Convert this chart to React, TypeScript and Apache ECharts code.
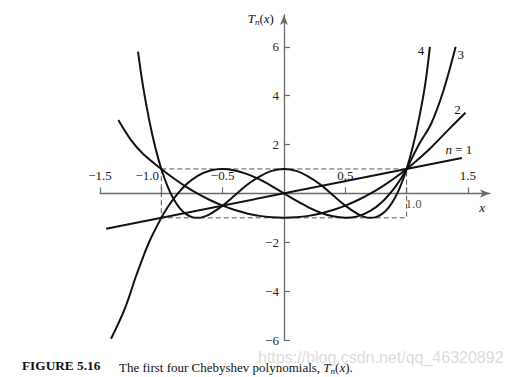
import React, { useEffect, useRef } from "react";
import * as echarts from "echarts";

// ---- data ----
const xTicks = [-1.5, -1, -0.5, 0.5, 1, 1.5];
const xLabelsAbove = [-1.5, -1, -0.5, 0.5, 1.5];
const xLabelsBelow = [[1, 0]];
const yTicks = [-6, -4, -2, 2, 4, 6];
const boxCorners = [
  [-1, 1],
  [1, -1],
];

const t1Points = [
  [-1.45, -1.45],
  [1.45, 1.45],
];

const t2Points = [
  [-1.35, 3.0], [-1.25, 2.2], [-1.15, 1.62], [-1.0, 1.0], [-0.9, 0.62], [-0.8, 0.28],
  [-0.7, -0.02], [-0.6, -0.28], [-0.5, -0.5], [-0.4, -0.68], [-0.3, -0.82], [-0.2, -0.92],
  [-0.1, -0.98], [0, -1], [0.1, -0.98], [0.2, -0.92], [0.3, -0.82], [0.4, -0.68],
  [0.5, -0.5], [0.6, -0.28], [0.7, -0.02], [0.8, 0.28], [0.9, 0.62], [1.0, 1.0],
  [1.1, 1.42], [1.2, 1.88], [1.35, 2.65], [1.48, 3.3],
];

const t3Points = [
  [-1.41, -5.95], [-1.3, -4.75], [-1.2, -3.3], [-1.1, -2.0], [-1.0, -1.0], [-0.95, -0.58],
  [-0.9, -0.22], [-0.8, 0.35], [-0.7, 0.73], [-0.6, 0.94], [-0.5, 1.0], [-0.4, 0.94],
  [-0.3, 0.79], [-0.2, 0.57], [-0.1, 0.3], [0, 0], [0.1, -0.3], [0.2, -0.57], [0.3, -0.79],
  [0.4, -0.94], [0.5, -1.0], [0.6, -0.94], [0.7, -0.73], [0.8, -0.35], [0.9, 0.22],
  [0.95, 0.58], [1.0, 1.0], [1.1, 2.0], [1.2, 2.85], [1.3, 4.2], [1.4, 6.0],
];

const t4Points = [
  [-1.19, 5.8], [-1.15, 4.41], [-1.1, 3.03], [-1.05, 1.9], [-1.0, 1.0], [-0.95, 0.3],
  [-0.9, -0.23], [-0.85, -0.6], [-0.8, -0.84], [-0.75, -0.97], [-0.7, -1.0], [-0.65, -0.95],
  [-0.6, -0.84], [-0.5, -0.5], [-0.4, -0.08], [-0.3, 0.35], [-0.2, 0.69], [-0.1, 0.92],
  [0, 1.0], [0.1, 0.92], [0.2, 0.69], [0.3, 0.35], [0.4, -0.08], [0.5, -0.5], [0.6, -0.84],
  [0.65, -0.95], [0.7, -1.0], [0.75, -0.97], [0.8, -0.84], [0.85, -0.6], [0.9, -0.23],
  [0.95, 0.3], [1.0, 1.0], [1.05, 1.9], [1.1, 3.03], [1.15, 4.41], [1.19, 6.0],
];

const curveNames = ["n = 1", "2", "3", "4"];

const SERIF = '"Liberation Serif", "Times New Roman", serif';
const AXIS_COLOR = "#6a6a6a";
const INK = "#111";

const GRID = { left: 100, right: 22, top: 15, bottom: 37 };
const W = 512;
const H = 377;

const fmtNum = (v: number, digits: number) =>
  (v < 0 ? "\u2212" : "") + Math.abs(v).toFixed(digits);

export default function App() {
  const ref = useRef<HTMLDivElement>(null);

  useEffect(() => {
    if (!ref.current) return;
    const chart = echarts.init(ref.current, undefined, { renderer: "svg" });

    const italic = { fontFamily: SERIF, fontStyle: "italic" as const, fontSize: 13, color: INK };

    const curve = (name: string, data: number[][], label: string, offset: number[]) => ({
      type: "line",
      name,
      data,
      smooth: 0.35,
      symbol: "none",
      showSymbol: false,
      lineStyle: { color: INK, width: 2 },
      z: 3,
      endLabel: {
        show: true,
        formatter: label,
        offset,
        distance: 0,
        align: "center",
        verticalAlign: "middle",
        fontFamily: SERIF,
        fontSize: 13,
        color: INK,
        rich: {
          i: { ...italic },
          r: { fontFamily: SERIF, fontSize: 13, color: INK },
        },
      },
    });

    chart.setOption({
      animation: false,
      backgroundColor: "#fff",
      grid: {
        ...GRID,
        containLabel: false,
        outerBoundsMode: "none",
      },
      xAxis: {
        type: "value",
        min: -1.5,
        max: 1.68,
        position: "bottom",
        splitLine: { show: false },
        axisLine: {
          onZero: false,
          symbol: ["none", "arrow"],
          symbolSize: [6, 10],
          lineStyle: { color: AXIS_COLOR, width: 1.3 },
        },
        axisTick: {
          inside: true,
          length: 6,
          customValues: xTicks,
          lineStyle: { color: AXIS_COLOR, width: 1.2 },
        },
        axisLabel: {
          inside: true,
          margin: 11,
          customValues: xLabelsAbove,
          fontFamily: SERIF,
          fontSize: 13,
          color: "#222",
          formatter: (v: number) => (v === -1 ? "{l|" + fmtNum(v, 1) + "}" : fmtNum(v, 1)),
          rich: {
            l: { fontFamily: SERIF, fontSize: 13, color: "#222", padding: [0, 28, 0, 0] },
          },
        },
        name: "x",
        nameLocation: "end",
        nameGap: -5,
        nameTextStyle: {
          ...italic,
          align: "right",
          verticalAlign: "top",
          padding: [8, 0, 0, 0],
        },
      },
      yAxis: {
        type: "value",
        min: -6,
        max: 7.3,
        position: "left",
        splitLine: { show: false },
        axisLine: {
          onZero: false,
          symbol: ["none", "arrow"],
          symbolSize: [6, 10],
          lineStyle: { color: AXIS_COLOR, width: 1.3 },
        },
        axisTick: {
          inside: true,
          length: 6,
          customValues: yTicks,
          lineStyle: { color: AXIS_COLOR, width: 1.2 },
        },
        axisLabel: {
          margin: 5,
          customValues: yTicks,
          fontFamily: SERIF,
          fontSize: 13,
          color: "#222",
          formatter: (v: number) => fmtNum(v, 0),
        },
        name: "{t|T}{s|n}{p|(}{t|x}{p|)}",
        nameLocation: "end",
        nameGap: -3,
        nameTextStyle: {
          align: "right",
          verticalAlign: "middle",
          padding: [0, 10, 0, 0],
          rich: {
            t: { ...italic },
            s: { ...italic, fontSize: 9, padding: [7, 0, 0, 0] },
            p: { fontFamily: SERIF, fontSize: 13, color: INK },
          },
        },
      },
      series: [
        {
          type: "line",
          name: "box",
          data: [],
          silent: true,
          markArea: {
            silent: true,
            itemStyle: {
              color: "rgba(0,0,0,0)",
              borderColor: "#555",
              borderWidth: 1,
              borderType: [5, 3],
            },
            data: [[{ coord: boxCorners[0] }, { coord: boxCorners[1] }]],
          },
        },
        curve("T1", t1Points, "{i|n}{r| = 1}", [-3, -8]),
        curve("T2", t2Points, curveNames[1], [-8, -3]),
        curve("T3", t3Points, curveNames[2], [5, 8]),
        curve("T4", t4Points, curveNames[3], [-9, 4]),
        {
          type: "scatter",
          name: "tick label",
          data: xLabelsBelow,
          symbolSize: 0.1,
          itemStyle: { color: "rgba(0,0,0,0)" },
          silent: true,
          label: {
            show: true,
            position: "inside",
            offset: [7, 10],
            formatter: (p: any) => fmtNum(p.value[0], 1),
            fontFamily: SERIF,
            fontSize: 13,
            color: "#222",
          },
        },
      ],
      graphic: [
        {
          type: "text",
          x: 258,
          y: 349,
          silent: true,
          z: -1,
          style: {
            text: "https://blog.csdn.net/qq_46320892",
            font: '16px "Liberation Sans", Arial, sans-serif',
            fill: "#dcdcdc",
            verticalAlign: "top",
          },
        },
        {
          type: "text",
          x: 22,
          y: 359,
          style: {
            text: "FIGURE 5.16",
            font: 'bold 13.3px "Liberation Serif", serif',
            fill: INK,
            verticalAlign: "top",
          },
        },
        {
          type: "text",
          x: 119,
          y: 359,
          style: {
            text: "The first four Chebyshev polynomials, {t|T}{s|n}{p|(}{t|x}{p|).}",
            font: '13px "Liberation Serif", serif',
            fill: INK,
            verticalAlign: "top",
            rich: {
              t: { font: 'italic 13px "Liberation Serif", serif', fill: INK },
              s: { font: 'italic 9px "Liberation Serif", serif', fill: INK, padding: [7, 0, 0, 0] },
              p: { font: '13px "Liberation Serif", serif', fill: INK },
            },
          },
        },
      ],
    });

    // move both axes so they cross at the data origin, using the chart's own scales
    const origin = chart.convertToPixel({ gridIndex: 0 }, [0, 0]) as number[];
    if (origin && isFinite(origin[0]) && isFinite(origin[1])) {
      const gridBottomPx = H - GRID.bottom;
      const gridLeftPx = GRID.left;
      chart.setOption({
        xAxis: { offset: origin[1] - gridBottomPx },
        yAxis: { offset: gridLeftPx - origin[0] },
      });
    }

    return () => chart.dispose();
  }, []);

  return (
    <div
      ref={ref}
      style={{ position: "fixed", left: 0, top: 0, width: W, height: H, background: "#fff" }}
    />
  );
}
